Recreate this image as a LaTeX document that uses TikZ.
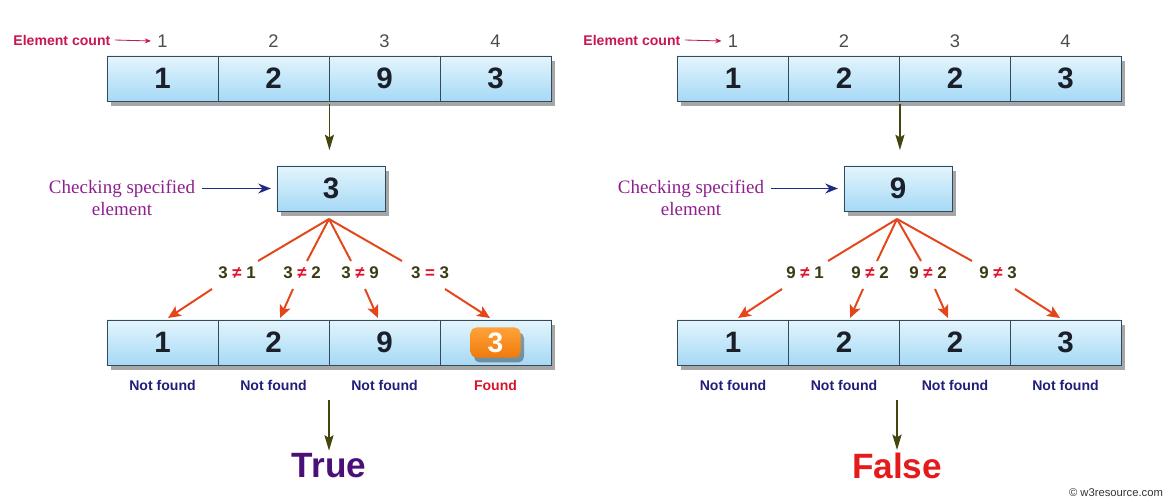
\documentclass[tikz,border=0pt]{standalone}
\usepackage{fontspec}
\setmainfont{Liberation Sans}
\newfontfamily\chkfont{Liberation Serif}
\usetikzlibrary{arrows.meta,shadows}

\definecolor{cellTop}{HTML}{E4F5FD}
\definecolor{cellBot}{HTML}{A5D9F5}
\definecolor{cellEdge}{HTML}{34495A}
\definecolor{cellText}{HTML}{1A1F2A}
\definecolor{fanRed}{HTML}{E2461A}
\definecolor{olive}{HTML}{45450F}
\definecolor{cmpText}{HTML}{3B3B12}
\definecolor{neqRed}{HTML}{E0102A}
\definecolor{chkPurple}{HTML}{8E1F8E}
\definecolor{chkBlue}{HTML}{1E2B85}
\definecolor{countRed}{HTML}{C8164E}
\definecolor{notFound}{HTML}{1F1F7A}
\definecolor{foundRed}{HTML}{D9142A}
\definecolor{truePurple}{HTML}{4A1078}
\definecolor{falseRed}{HTML}{E31B1B}
\definecolor{foundTop}{HTML}{FFA23A}
\definecolor{foundBot}{HTML}{F07A0A}

\tikzset{
  boxshadow/.style={drop shadow={shadow xshift=2.5pt,shadow yshift=-3.5pt,opacity=0.35,fill=black}},
  cellbox/.style={draw=cellEdge,line width=0.6pt,top color=cellTop,bottom color=cellBot,
    minimum width=2.775cm,minimum height=1.125cm,inner sep=0pt,text=cellText,
    font=\fontsize{21}{24}\selectfont\bfseries,boxshadow},
  keybox/.style={cellbox,minimum width=2.7cm},
  foundbox/.style={rounded corners=4pt,top color=foundTop,bottom color=foundBot,
    minimum width=1.25cm,minimum height=0.75cm,inner sep=0pt,text=white,
    font=\fontsize{20}{22}\selectfont\bfseries,boxshadow},
  countnum/.style={text=black!70,font=\fontsize{13}{15}\selectfont},
  countlbl/.style={text=countRed,font=\fontsize{10}{12}\selectfont\bfseries,inner sep=1pt},
  countarrow/.style={draw=countRed,line width=0.6pt,-{Stealth[length=4.5pt,width=3.5pt]}},
  chklbl/.style={text=chkPurple,font=\chkfont\fontsize{13.5}{15.5}\selectfont,align=center,inner sep=1pt},
  chkarrow/.style={draw=chkBlue,line width=1.3pt,-{Stealth[length=9pt,width=7pt]}},
  downarrow/.style={draw=olive,line width=1.1pt,-{Stealth[length=11pt,width=6.5pt,inset=2pt]}},
  fanline/.style={draw=fanRed,line width=1.4pt},
  fanarrow/.style={fanline,-{Stealth[length=9pt,width=8pt,inset=2pt]}},
  cmplbl/.style={text=cmpText,font=\fontsize{12}{14}\selectfont\bfseries},
  reslbl/.style={font=\fontsize{10}{12}\selectfont\bfseries},
  answer/.style={font=\fontsize{25}{28}\selectfont\bfseries,inner sep=2pt}
}
\newcommand{\rel}[1]{\textcolor{neqRed}{#1}}

\begin{document}
\begin{tikzpicture}[x=0.025cm,y=-0.025cm]
\useasboundingbox (0,0) rectangle (1169,504);

% left panel: element is found
\foreach \i/\cx/\v in {1/162.5/1,2/273.5/2,3/384.5/9,4/495.5/3} {
  \node[countnum] (Lcnt\i) at (\cx,41) {\i};
  \node[cellbox] (Ltop\i) at (\cx,78.5) {\v};
}
\node[countlbl,anchor=east] (Lcount) at (112,40) {Element count};
\draw[countarrow] ([xshift=2pt]Lcount.east) -- ([xshift=-1pt]Lcnt1.west);

\node[keybox] (Lkey) at (331,188.5) {3};
\draw[downarrow,shorten <=2pt,shorten >=11pt] (Ltop2.south east) -- (Ltop2.south east |- Lkey.north);
\node[chklbl] (Lchk) at (122,198) {Checking specified\\element};
\draw[chkarrow,shorten <=4pt,shorten >=4pt] (Lchk.east |- Lkey.west) -- (Lkey.west);

\coordinate (Lfan) at (329,219);
\foreach \i/\lx/\ux/\sx/\ex/\txt in {1/237/258/212/168/{3 \rel{≠} 1},2/302/307/293/280/{3 \rel{≠} 2},
    3/360/351/365/378/{3 \rel{≠} 9},4/430/402/445/490/{3 \rel{=} 3}} {
  \node[cmplbl] (Lcmp\i) at (\lx,273) {\txt};
  \coordinate (Lup\i) at (\ux,261);
  \coordinate (Llo\i) at (\sx,289);
  \coordinate (Lhit\i) at (\ex,318);
  \draw[fanline] (Lfan) -- (Lup\i);
  \draw[fanarrow] (Llo\i) -- (Lhit\i);
}

\foreach \i/\cx/\v in {1/162.5/1,2/273.5/2,3/384.5/9} {
  \node[cellbox] (Lbot\i) at (\cx,342.5) {\v};
  \node[reslbl,text=notFound] (Lres\i) at (\cx,385) {Not found};
}
\node[cellbox] (Lbot4) at (495.5,342.5) {};
\node[foundbox] (Lfound) at (Lbot4) {3};
\node[reslbl,text=foundRed] (Lres4) at (495.5,385) {Found};

\coordinate (Lgo) at (329,400);
\node[answer,text=truePurple] (Lans) at (329,466) {True};
\draw[downarrow] (Lgo) -- (Lans.north);

% right panel: element is not found
\foreach \i/\cx/\v in {1/733/1,2/844/2,3/955/2,4/1065.5/3} {
  \node[countnum] (Rcnt\i) at (\cx,41) {\i};
  \node[cellbox] (Rtop\i) at (\cx,78.5) {\v};
}
\node[countlbl,anchor=east] (Rcount) at (682,40) {Element count};
\draw[countarrow] ([xshift=2pt]Rcount.east) -- ([xshift=-1pt]Rcnt1.west);

\node[keybox] (Rkey) at (898,188.5) {9};
\draw[downarrow,shorten <=2pt,shorten >=11pt] (Rtop2.south east) -- (Rtop2.south east |- Rkey.north);
\node[chklbl] (Rchk) at (691,198) {Checking specified\\element};
\draw[chkarrow,shorten <=4pt,shorten >=4pt] (Rchk.east |- Rkey.west) -- (Rkey.west);

\coordinate (Rfan) at (897,219);
\foreach \i/\lx/\ux/\sx/\ex/\txt in {1/805/828/782/738/{9 \rel{≠} 1},2/870/877/863/850/{9 \rel{≠} 2},
    3/928/921/935/948/{9 \rel{≠} 2},4/998/972/1015/1060/{9 \rel{≠} 3}} {
  \node[cmplbl] (Rcmp\i) at (\lx,273) {\txt};
  \coordinate (Rup\i) at (\ux,261);
  \coordinate (Rlo\i) at (\sx,289);
  \coordinate (Rhit\i) at (\ex,318);
  \draw[fanline] (Rfan) -- (Rup\i);
  \draw[fanarrow] (Rlo\i) -- (Rhit\i);
}

\foreach \i/\cx/\v in {1/733/1,2/844/2,3/955/2,4/1065.5/3} {
  \node[cellbox] (Rbot\i) at (\cx,342.5) {\v};
  \node[reslbl,text=notFound] (Rres\i) at (\cx,385) {Not found};
}

\coordinate (Rgo) at (897,400);
\node[answer,text=falseRed] (Rans) at (897,466) {False};
\draw[downarrow] (Rgo) -- (Rans.north);

\node[text=black!80,font=\fontsize{8}{10}\selectfont] (credit) at (1116,493) {\textcopyright\ w3resource.com};
\end{tikzpicture}
\end{document}
